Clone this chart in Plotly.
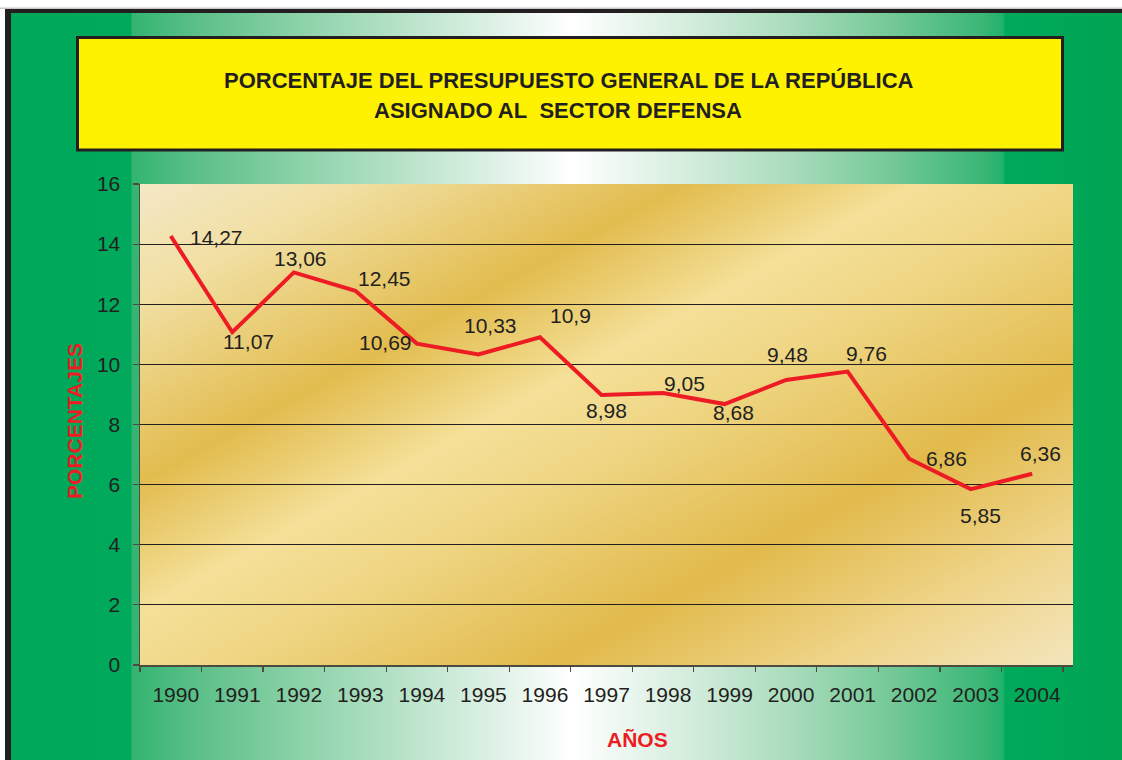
import base64
import plotly.graph_objects as go

# ---------------- data ----------------
years = ["1990", "1991", "1992", "1993", "1994", "1995", "1996", "1997",
         "1998", "1999", "2000", "2001", "2002", "2003", "2004"]
percentages = [14.27, 11.07, 13.06, 12.45, 10.69, 10.33, 10.9, 8.98,
               9.05, 8.68, 9.48, 9.76, 6.86, 5.85, 6.36]
y_ticks = [0, 2, 4, 6, 8, 10, 12, 14, 16]

title_line1 = "PORCENTAJE DEL PRESUPUESTO GENERAL DE LA REPÚBLICA"
title_line2 = "ASIGNADO AL\u00a0 SECTOR DEFENSA"
x_title = "AÑOS"
y_title = "PORCENTAJES"

# label offsets (pixels, dx right, dy down) for each data label
label_dx = [46, 16, 7, 29, -31, 12, 31, 5, 21, 9, 1, 19, 37, 10, 8]
label_dy = [1, 9, -14, -12, -1, -29, -22, 15, -9, 8, -26, -18, 0, 26, -20]

# ---------------- layout geometry ----------------
W, H = 1122, 760
PL, PR, PT, PB = 140, 1073, 184, 665   # plot area in pixels
PW, PH = PR - PL, PB - PT


def px(x):
    return (x - PL) / PW


def py(y):
    return (PB - y) / PH


FONT = "Liberation Sans, Arial, Helvetica, sans-serif"
INK = "#231F20"
RED = "#ED1C24"

# ---------------- background images (gradients) ----------------
green_stops = [
    (0, "#00A859"), (131, "#00A95B"), (132, "#33B470"), (200, "#5DC08A"),
    (300, "#8CD2A8"), (400, "#B7E2C8"), (500, "#E0F2E7"), (572, "#FFFFFF"),
    (680, "#D8EEDF"), (780, "#AEDEC0"), (880, "#7ACB9B"), (980, "#3DB777"),
    (1003, "#22B16B"), (1005, "#00AA5C"), (1122, "#00A452"),
]
stops_xml = "".join(
    f'<stop offset="{p / W:.4f}" stop-color="{c}"/>' for p, c in green_stops
)
bg_svg = f'''<svg xmlns="http://www.w3.org/2000/svg" width="{W}" height="{H}" viewBox="0 0 {W} {H}" preserveAspectRatio="none">
<defs><linearGradient id="g" gradientUnits="userSpaceOnUse" x1="0" y1="0" x2="{W}" y2="0">{stops_xml}</linearGradient></defs>
<rect x="0" y="0" width="{W}" height="{H}" fill="#FFFFFF"/>
<rect x="0" y="7.5" width="{W}" height="1.5" fill="#C8C8C8"/>
<rect x="5" y="9" width="{W-5}" height="{H-9}" fill="{INK}"/>
<rect x="11" y="13" width="{W-11}" height="{H-13}" fill="url(#g)"/>
</svg>'''

gold_svg = f'''<svg xmlns="http://www.w3.org/2000/svg" width="{PW}" height="{PH}" viewBox="0 0 {PW} {PH}" preserveAspectRatio="none">
<defs><linearGradient id="au" gradientUnits="userSpaceOnUse" x1="0" y1="0" x2="420" y2="763">
<stop offset="0" stop-color="#F4E8C6"/>
<stop offset="0.12" stop-color="#F1DFA2"/>
<stop offset="0.30" stop-color="#E2BC4E"/>
<stop offset="0.43" stop-color="#F4E098"/>
<stop offset="0.53" stop-color="#EFD684"/>
<stop offset="0.71" stop-color="#E1BA4B"/>
<stop offset="0.86" stop-color="#EFD488"/>
<stop offset="1" stop-color="#F3E5BC"/>
</linearGradient></defs>
<rect x="0" y="0" width="{PW}" height="{PH}" fill="url(#au)"/>
</svg>'''


def data_uri(svg):
    return "data:image/svg+xml;base64," + base64.b64encode(svg.encode("utf-8")).decode("ascii")


# ---------------- figure ----------------
fig = go.Figure()
fig.add_trace(go.Scatter(
    x=years, y=percentages, mode="lines",
    line=dict(color=RED, width=4),
    hoverinfo="skip", showlegend=False,
))

annotations = []
for i, (v, dx, dy) in enumerate(zip(percentages, label_dx, label_dy)):
    annotations.append(dict(
        x=i, y=v, xref="x", yref="y", showarrow=False,
        text=f"{v:g}".replace(".", ","),
        font=dict(family=FONT, size=21, color=INK),
        xshift=dx, yshift=-dy, xanchor="center", yanchor="middle",
    ))

annotations.append(dict(
    xref="paper", yref="paper", x=px(569), y=py(80.5), showarrow=False,
    text=f"<b>{title_line1}</b>",
    font=dict(family=FONT, size=22, color=INK),
    xanchor="center", yanchor="middle",
))
annotations.append(dict(
    xref="paper", yref="paper", x=px(372), y=py(110.5), showarrow=False,
    text=f"<b>{title_line2}</b>",
    font=dict(family=FONT, size=22, color=INK),
    xanchor="left", yanchor="middle",
))
annotations.append(dict(
    xref="paper", yref="paper", x=px(637), y=py(739), showarrow=False,
    text=f"<b>{x_title}</b>", font=dict(family=FONT, size=21, color=RED),
    xanchor="center", yanchor="middle",
))
annotations.append(dict(
    xref="paper", yref="paper", x=px(74), y=py(421), showarrow=False,
    text=f"<b>{y_title}</b>", textangle=-90,
    font=dict(family=FONT, size=21, color=RED),
    xanchor="center", yanchor="middle",
))

shapes = [dict(
    type="rect", xref="paper", yref="paper",
    x0=px(77.5), x1=px(1062.5), y0=py(150), y1=py(37.5),
    fillcolor="#FFF200", line=dict(color=INK, width=3), layer="above",
)]

images = [
    dict(source=data_uri(bg_svg), xref="paper", yref="paper",
         x=px(0), y=py(0), sizex=W / PW, sizey=H / PH,
         xanchor="left", yanchor="top", sizing="stretch", layer="below"),
    dict(source=data_uri(gold_svg), xref="paper", yref="paper",
         x=0, y=1, sizex=1, sizey=1,
         xanchor="left", yanchor="top", sizing="stretch", layer="below"),
]

n = len(years)
fig.update_layout(
    width=W, height=H,
    margin=dict(l=PL, r=W - PR, t=PT, b=H - PB, pad=0),
    paper_bgcolor="#FFFFFF", plot_bgcolor="rgba(0,0,0,0)",
    font=dict(family=FONT, size=21, color=INK),
    annotations=annotations, shapes=shapes, images=images,
    showlegend=False,
    xaxis=dict(
        type="category", categoryorder="array", categoryarray=years,
        range=[-0.5, n - 0.5 + 10 / 61.5],
        showgrid=False, zeroline=False,
        showline=True, linecolor="#4D4A40", linewidth=1.5,
        ticks="outside", tickson="boundaries", ticklen=5, tickwidth=1.2,
        tickcolor="#4D4A40",
        tickfont=dict(family=FONT, size=21, color=INK),
        ticklabelstandoff=10, ticklabelshift=5,
        fixedrange=True,
    ),
    yaxis=dict(
        range=[0, 16], tickvals=y_ticks, ticktext=[str(t) for t in y_ticks],
        showgrid=True, gridcolor=INK, gridwidth=1,
        zeroline=False,
        showline=True, linecolor="#4D4A40", linewidth=1.5,
        ticks="outside", ticklen=6, tickwidth=1.2, tickcolor="#4D4A40",
        tickfont=dict(family=FONT, size=21, color=INK),
        ticklabelstandoff=8,
        fixedrange=True,
    ),
)

fig.write_html(
    "out.html",
    config={"displayModeBar": False, "staticPlot": True},
    post_script="document.body.style.margin='0px';document.body.style.overflow='hidden';",
)
